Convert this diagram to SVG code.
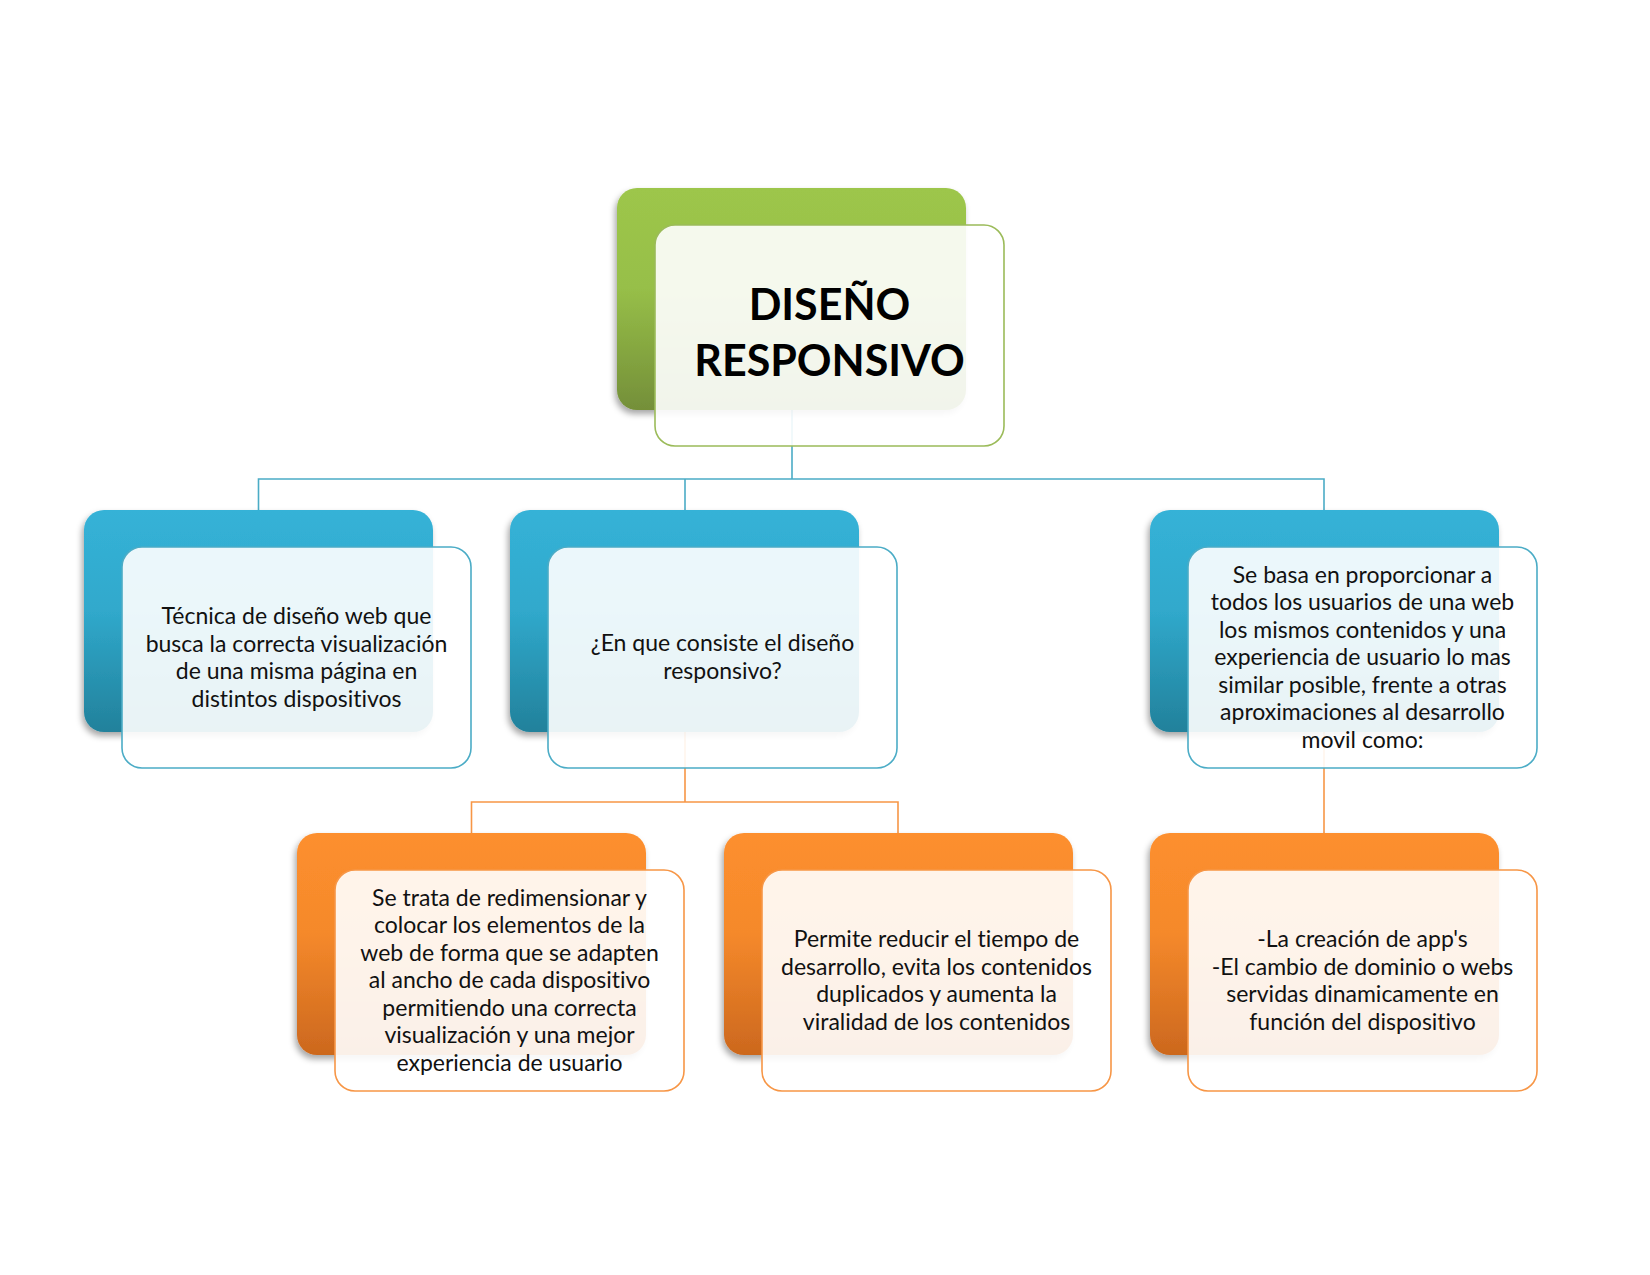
<svg xmlns="http://www.w3.org/2000/svg" width="1650" height="1275" viewBox="0 0 1650 1275">
<defs>
<linearGradient id="gG" x1="0" y1="0" x2="0" y2="1"><stop offset="0" stop-color="#9dc64b"/><stop offset="0.45" stop-color="#97bf48"/><stop offset="1" stop-color="#748f39"/></linearGradient>
<linearGradient id="gB" x1="0" y1="0" x2="0" y2="1"><stop offset="0" stop-color="#35b2d7"/><stop offset="0.45" stop-color="#30a9cc"/><stop offset="1" stop-color="#22819b"/></linearGradient>
<linearGradient id="gO" x1="0" y1="0" x2="0" y2="1"><stop offset="0" stop-color="#fd8f2e"/><stop offset="0.45" stop-color="#f5892b"/><stop offset="1" stop-color="#cc681e"/></linearGradient>
<filter id="sh" x="-10%" y="-10%" width="120%" height="125%"><feDropShadow dx="-2" dy="4" stdDeviation="3" flood-color="#000" flood-opacity="0.35"/></filter>
</defs>
<style>
.back{filter:url(#sh)}
.front{fill:#fff;fill-opacity:0.9;stroke-width:1.6}
.fg{stroke:#9bbb59}.fb{stroke:#4bacc6}.fo{stroke:#f79646}
.cb{stroke:#4bacc6;stroke-width:1.6;fill:none}
.co{stroke:#f79646;stroke-width:1.6;fill:none}
.t{font-family:Lato,"Open Sans",sans-serif;font-size:23px;fill:#111;text-anchor:middle;font-variant-ligatures:none}
.title{font-family:Lato,"Open Sans",sans-serif;font-size:43px;font-weight:bold;fill:#000;text-anchor:middle}
</style>
<rect width="1650" height="1275" fill="#fff"/>
<g id="connectors">
<path class="cb" d="M792 408V479M258.5 510V479H1324V510M685 479V510"/>
<path class="co" d="M685 732V802M471.5 833V802H898V833"/>
<path class="co" d="M1324 732V833"/>
</g>
<g id="node-top">
<rect class="back" x="617" y="188" width="349" height="222" rx="20" fill="url(#gG)"/>
<rect class="front fg" x="655" y="225" width="349" height="221" rx="20"/>
<text class="title"><tspan x="829.5" y="320">DISEÑO</tspan><tspan x="829.5" y="376">RESPONSIVO</tspan></text>
</g>
<g id="node-b1">
<rect class="back" x="84" y="510" width="349" height="222" rx="20" fill="url(#gB)"/>
<rect class="front fb" x="122" y="547" width="349" height="221" rx="20"/>
<text class="t"><tspan x="296.5" y="624">Técnica de diseño web que</tspan><tspan x="296.5" y="651.5">busca la correcta visualización</tspan><tspan x="296.5" y="679">de una misma página en</tspan><tspan x="296.5" y="706.5">distintos dispositivos</tspan></text>
</g>
<g id="node-b2">
<rect class="back" x="510" y="510" width="349" height="222" rx="20" fill="url(#gB)"/>
<rect class="front fb" x="548" y="547" width="349" height="221" rx="20"/>
<text class="t"><tspan x="722.5" y="651">¿En que consiste el diseño</tspan><tspan x="722.5" y="678.5">responsivo?</tspan></text>
</g>
<g id="node-b3">
<rect class="back" x="1150" y="510" width="349" height="222" rx="20" fill="url(#gB)"/>
<rect class="front fb" x="1188" y="547" width="349" height="221" rx="20"/>
<text class="t"><tspan x="1362.5" y="582.5">Se basa en proporcionar a</tspan><tspan x="1362.5" y="610">todos los usuarios de una web</tspan><tspan x="1362.5" y="637.5">los mismos contenidos y una</tspan><tspan x="1362.5" y="665">experiencia de usuario lo mas</tspan><tspan x="1362.5" y="692.5">similar posible, frente a otras</tspan><tspan x="1362.5" y="720">aproximaciones al desarrollo</tspan><tspan x="1362.5" y="747.5">movil como:</tspan></text>
</g>
<g id="node-o1">
<rect class="back" x="297" y="833" width="349" height="222" rx="20" fill="url(#gO)"/>
<rect class="front fo" x="335" y="870" width="349" height="221" rx="20"/>
<text class="t"><tspan x="509.5" y="905.5">Se trata de redimensionar y</tspan><tspan x="509.5" y="933">colocar los elementos de la</tspan><tspan x="509.5" y="960.5">web de forma que se adapten</tspan><tspan x="509.5" y="988">al ancho de cada dispositivo</tspan><tspan x="509.5" y="1015.5">permitiendo una correcta</tspan><tspan x="509.5" y="1043">visualización y una mejor</tspan><tspan x="509.5" y="1070.5">experiencia de usuario</tspan></text>
</g>
<g id="node-o2">
<rect class="back" x="724" y="833" width="349" height="222" rx="20" fill="url(#gO)"/>
<rect class="front fo" x="762" y="870" width="349" height="221" rx="20"/>
<text class="t"><tspan x="936.5" y="947">Permite reducir el tiempo de</tspan><tspan x="936.5" y="974.5">desarrollo, evita los contenidos</tspan><tspan x="936.5" y="1002">duplicados y aumenta la</tspan><tspan x="936.5" y="1029.5">viralidad de los contenidos</tspan></text>
</g>
<g id="node-o3">
<rect class="back" x="1150" y="833" width="349" height="222" rx="20" fill="url(#gO)"/>
<rect class="front fo" x="1188" y="870" width="349" height="221" rx="20"/>
<text class="t"><tspan x="1362.5" y="947">-La creación de app's</tspan><tspan x="1362.5" y="974.5">-El cambio de dominio o webs</tspan><tspan x="1362.5" y="1002">servidas dinamicamente en</tspan><tspan x="1362.5" y="1029.5">función del dispositivo</tspan></text>
</g>
</svg>
